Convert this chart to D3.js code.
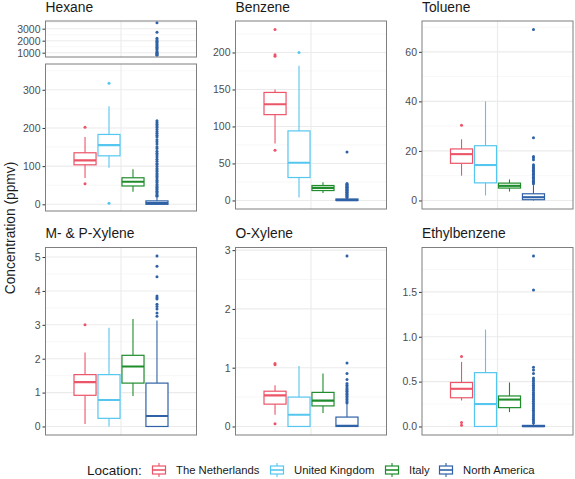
<!DOCTYPE html>
<html>
<head>
  <meta charset="utf-8">
  <script src="https://cdn.jsdelivr.net/npm/d3@7"></script>
  <style>
    body { margin: 0; background: #fff; }
    text { font-family: "Liberation Sans", Arial, sans-serif; }
  </style>
</head>
<body>
<script>
  "use strict";

  // categories + colours
  var locations = ["The Netherlands", "United Kingdom", "Italy", "North America"];
  var locColors = ["#EC5468", "#55C6F0", "#1F8C2B", "#2E61A6"];
  var compounds = ["Hexane", "Benzene", "Toluene", "M- & P-Xylene", "O-Xylene", "Ethylbenzene"];

  // five number summaries [lower whisker, q1, median, q3, upper whisker], one per location
  var hexaneBox = [[69, 103.5, 115, 135, 176], [96, 127, 155, 183, 257], [33, 48, 59, 69.5, 92], [0, 0, 3, 9, 18]];
  var benzeneBox = [[77, 116, 130, 146, 150], [4, 31, 51, 94, 182], [10, 13.4, 17, 20.2, 24.6], [0, 0, 0.5, 2, 3.5]];
  var tolueneBox = [[10, 15, 18.7, 20.8, 24.7], [2, 7.1, 14.3, 22.1, 40], [3.6, 5, 5.9, 7, 8.5], [0, 0.3, 1.3, 2.7, 6.2]];
  var mpXyleneBox = [[0.07, 0.92, 1.31, 1.53, 2.18], [0, 0.24, 0.78, 1.53, 2.91], [0.9, 1.28, 1.77, 2.1, 3.17], [0, 0, 0.31, 1.28, 3.13]];
  var oXyleneBox = [[0.2, 0.38, 0.53, 0.6, 0.7], [0, 0, 0.2, 0.5, 1.03], [0.23, 0.35, 0.44, 0.58, 0.9], [0, 0, 0.01, 0.16, 0.38]];
  var ethylBox = [[0.29, 0.32, 0.42, 0.49, 0.72], [0, 0, 0.25, 0.6, 1.08], [0.16, 0.21, 0.3, 0.34, 0.49], [0, 0, 0.003, 0.012, 0.03]];

  // outliers, one list per location
  var hexaneOut = [[202, 54], [317, 3], [],
    [21, 24, 27, 31, 34, 38, 41, 45, 48, 52, 57, 61, 64, 69, 73, 77, 81, 86, 90, 94, 99, 104, 107, 113, 118, 124,
     129, 134, 139, 146, 151, 158, 164, 169, 176, 181, 186, 191, 196, 201, 205, 210, 214, 219,
     780, 830, 880, 950, 1020, 1100, 1250, 1350, 1450, 1550, 1650, 1750, 1850, 1950, 2050, 2200, 2700, 3500]];
  var benzeneOut = [[231, 197, 195, 68], [200], [],
    [4, 5, 6, 7.5, 8, 9, 10.5, 11, 12, 13.5, 14, 15, 16, 17.5, 18, 19, 20, 21, 22, 23, 65.5]];
  var tolueneOut = [[30.4], [], [],
    [6.7, 7.2, 7.8, 8.3, 8.9, 9.4, 10, 10.6, 11.1, 11.7, 12.2, 12.8, 13.3, 13.9, 14.4, 16.4, 17.2, 17.7, 25.3, 69]];
  var mpXyleneOut = [[3.0], [], [],
    [3.25, 3.35, 3.47, 3.54, 3.61, 3.76, 3.8, 3.85, 4.42, 4.73, 5.03]];
  var oXyleneOut = [[1.07, 1.05, 0.045], [], [],
    [0.4, 0.42, 0.45, 0.47, 0.5, 0.52, 0.55, 0.57, 0.6, 0.62, 0.64, 0.67, 0.7, 0.73, 0.8, 0.9, 1.08, 2.9]];
  var ethylOut = [[0.78, 0.044, 0.015], [], [],
    [0.04, 0.06, 0.08, 0.1, 0.12, 0.14, 0.16, 0.18, 0.2, 0.22, 0.24, 0.26, 0.28, 0.3, 0.32, 0.34, 0.36, 0.38,
     0.4, 0.42, 0.44, 0.46, 0.48, 0.5, 0.52, 0.54, 0.59, 0.63, 0.66, 1.52, 1.9]];

  // tick labels
  var hexaneTicksLow = [0, 100, 200, 300];
  var hexaneTicksHigh = [1000, 2000, 3000];
  var benzeneTicks = [0, 50, 100, 150, 200];
  var tolueneTicks = [0, 20, 40, 60];
  var mpXyleneTicks = [0, 1, 2, 3, 4, 5];
  var oXyleneTicks = [0, 1, 2, 3];
  var ethylTicks = [0, 0.5, 1.0, 1.5];

  var boxes = [hexaneBox, benzeneBox, tolueneBox, mpXyleneBox, oXyleneBox, ethylBox];
  var outs = [hexaneOut, benzeneOut, tolueneOut, mpXyleneOut, oXyleneOut, ethylOut];
  var ticks = [hexaneTicksLow, benzeneTicks, tolueneTicks, mpXyleneTicks, oXyleneTicks, ethylTicks];
  var tickFmt = [d3.format("d"), d3.format("d"), d3.format("d"), d3.format("d"), d3.format("d"), d3.format(".1f")];

  // layout
  var W = 575, H = 479;
  var colX = [45.5, 235.5, 422];
  var panelW = 151;
  var rowY = [[21, 209], [247.5, 435]];

  var svg = d3.select("body").append("svg")
      .attr("width", W).attr("height", H);

  var gridCol = "#EBEBEB";

  function extentWithPad(lo, hi) {
    var pad = (hi - lo) * 0.05;
    return [lo - pad, hi + pad];
  }

  // draw one panel; returns nothing
  function drawPanel(x0, y0, y1, domain, tks, fmt, boxData, outData, withBoxes) {
    var g = svg.append("g");
    var y = d3.scaleLinear().domain(domain).range([y1, y0]);
    var cx = x0 + panelW / 2;
    var band = d3.scaleBand().domain(locations)
        .range([cx - 47, cx + 47]).paddingInner(0.08);

    // minor grid
    var step = tks[1] - tks[0];
    var minors = [];
    for (var i = -1; i < tks.length; i++) {
      var m = (i < 0 ? tks[0] - step / 2 : tks[i] + step / 2);
      if (m > domain[0] && m < domain[1]) minors.push(m);
    }
    g.selectAll(".minor").data(minors).enter().append("line")
        .attr("x1", x0).attr("x2", x0 + panelW)
        .attr("y1", function(d) { return y(d); }).attr("y2", function(d) { return y(d); })
        .attr("stroke", "#F2F2F2").attr("stroke-width", 0.6);
    // major grid
    g.selectAll(".major").data(tks).enter().append("line")
        .attr("x1", x0).attr("x2", x0 + panelW)
        .attr("y1", function(d) { return y(d); }).attr("y2", function(d) { return y(d); })
        .attr("stroke", gridCol).attr("stroke-width", 1.1);
    g.append("line")
        .attr("x1", cx).attr("x2", cx).attr("y1", y0).attr("y2", y1)
        .attr("stroke", gridCol).attr("stroke-width", 1.1);

    // axis
    var axis = d3.axisLeft(y).tickValues(tks).tickFormat(fmt).tickSize(3).tickPadding(2);
    var ax = g.append("g").attr("transform", "translate(" + x0 + ",0)").call(axis);
    ax.select(".domain").remove();
    ax.selectAll("line").attr("stroke", "#333");
    ax.selectAll("text").attr("fill", "#4D4D4D").style("font-size", "10.5px")
        .style("font-family", "'Liberation Sans', Arial, sans-serif");

    var clipId = "clip" + Math.round(x0) + "_" + Math.round(y0);
    svg.append("clipPath").attr("id", clipId).append("rect")
        .attr("x", x0).attr("y", y0).attr("width", panelW).attr("height", y1 - y0);
    var marks = g.append("g").attr("clip-path", "url(#" + clipId + ")");

    locations.forEach(function(loc, k) {
      var col = locColors[k];
      var bx = band(loc), bw = band.bandwidth(), mx = bx + bw / 2;
      // outliers
      marks.selectAll(".o" + k).data(outData[k]).enter().append("circle")
          .attr("cx", mx).attr("cy", function(d) { return y(d); })
          .attr("r", 1.5).attr("fill", col);
      if (!withBoxes) return;
      var s = boxData[k];
      marks.append("line").attr("x1", mx).attr("x2", mx)
          .attr("y1", y(s[0])).attr("y2", y(s[1]))
          .attr("stroke", col).attr("stroke-width", 1.1);
      marks.append("line").attr("x1", mx).attr("x2", mx)
          .attr("y1", y(s[3])).attr("y2", y(s[4]))
          .attr("stroke", col).attr("stroke-width", 1.1);
      marks.append("rect").attr("x", bx).attr("width", bw)
          .attr("y", y(s[3])).attr("height", Math.max(0.5, y(s[1]) - y(s[3])))
          .attr("fill", "#fff").attr("stroke", col).attr("stroke-width", 1.2);
      marks.append("line").attr("x1", bx).attr("x2", bx + bw)
          .attr("y1", y(s[2])).attr("y2", y(s[2]))
          .attr("stroke", col).attr("stroke-width", 2.1);
    });

    g.append("rect").attr("x", x0).attr("y", y0)
        .attr("width", panelW).attr("height", y1 - y0)
        .attr("fill", "none").attr("stroke", "#7F7F7F").attr("stroke-width", 1);
  }

  compounds.forEach(function(name, p) {
    var c = p % 3, r = Math.floor(p / 3);
    var x0 = colX[c];
    svg.append("text").attr("x", x0).attr("y", r === 0 ? 12 : 238)
        .style("font-size", "13.8px").attr("fill", "#1A1A1A").text(name);

    if (name === "Hexane") {
      // broken axis: upper part for the big outliers
      drawPanel(x0, 21, 57, [640, 3640], hexaneTicksHigh, d3.format("d"),
                boxes[p], outs[p], false);
      drawPanel(x0, 64, 211, extentWithPad(0, 350), ticks[p], tickFmt[p],
                boxes[p], outs[p], true);
      return;
    }
    var all = [];
    boxes[p].forEach(function(s) { all = all.concat(s); });
    outs[p].forEach(function(o) { all = all.concat(o); });
    var dom = extentWithPad(d3.min(all), d3.max(all));
    drawPanel(x0, rowY[r][0], rowY[r][1], dom, ticks[p], tickFmt[p], boxes[p], outs[p], true);
  });

  // y axis title
  svg.append("text")
      .attr("transform", "translate(15,228) rotate(-90)")
      .attr("text-anchor", "middle")
      .style("font-size", "13.8px").attr("fill", "#1A1A1A")
      .text("Concentration (ppmv)");

  // legend
  var leg = svg.append("g");
  leg.append("text").attr("x", 87).attr("y", 474.5)
      .style("font-size", "13.5px").attr("fill", "#1A1A1A").text("Location:");
  var keyX = [151, 269, 384, 438];
  locations.forEach(function(loc, k) {
    var col = locColors[k], kx = keyX[k], kg = leg.append("g");
    kg.append("line").attr("x1", kx + 8).attr("x2", kx + 8).attr("y1", 463).attr("y2", 477)
        .attr("stroke", col).attr("stroke-width", 1.1);
    kg.append("rect").attr("x", kx + 1.5).attr("y", 466).attr("width", 13).attr("height", 8)
        .attr("fill", "#fff").attr("stroke", col).attr("stroke-width", 1.2);
    kg.append("line").attr("x1", kx + 1.5).attr("x2", kx + 14.5).attr("y1", 470).attr("y2", 470)
        .attr("stroke", col).attr("stroke-width", 1.6);
    kg.append("text").attr("x", kx + 25).attr("y", 474)
        .style("font-size", "11.3px").attr("fill", "#1A1A1A").text(loc);
  });
</script>
</body>
</html>
